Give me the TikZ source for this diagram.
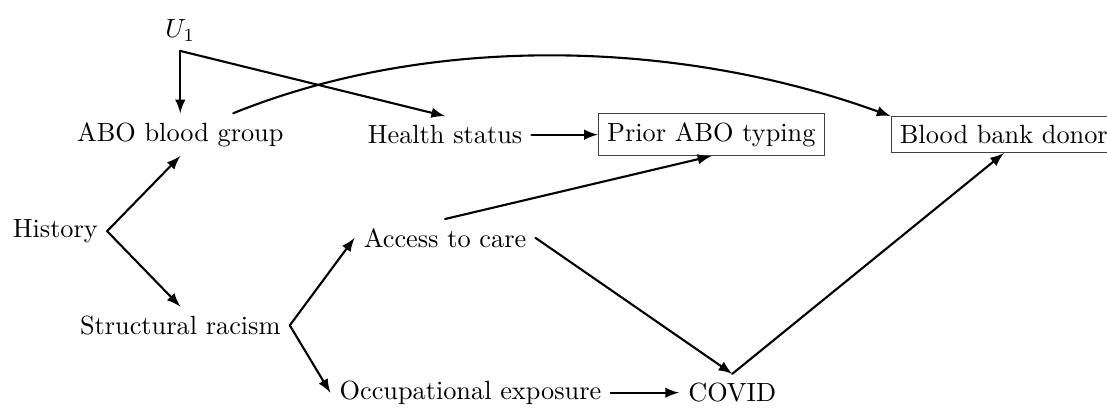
\documentclass[tikz,border=0pt]{standalone}
\usetikzlibrary{arrows}
\begin{document}
\begin{tikzpicture}[cap=round,>=latex,box/.style={draw=black!75},arr/.style={->,thick}]
	\useasboundingbox (0cm,0cm) rectangle (14.80cm,-5.47cm);
	\node (u1) at (2.41cm,-0.41cm) {$U_1$};
	\node (abo) at (2.41cm,-1.80cm) {ABO blood group};
	\node (health) at (5.95cm,-1.80cm) {Health status};
	\node[box] (prior) at (9.51cm,-1.80cm) {Prior ABO typing};
	\node[box] (bbd) at (13.42cm,-1.80cm) {Blood bank donor};
	\node (history) at (0.74cm,-3.09cm) {History};
	\node (access) at (5.95cm,-3.18cm) {Access to care};
	\node (racism) at (2.41cm,-4.35cm) {Structural racism};
	\node (occ) at (6.29cm,-5.25cm) {Occupational exposure};
	\node (covid) at (9.79cm,-5.25cm) {COVID};
	\draw[arr] (u1.south) -- (abo);
	\draw[arr] (u1.south) -- (health.north);
	\draw[arr] (abo) to[out=22,in=160,looseness=0.85] (bbd.north west);
	\draw[arr] (health) -- (prior);
	\draw[arr] (history.east) -- (abo.south);
	\draw[arr] (history.east) -- (racism.north);
	\draw[arr] (racism.east) -- (access.west);
	\draw[arr] (racism.east) -- (occ.west);
	\draw[arr] (access.north) -- (prior.south);
	\draw[arr] (access.east) -- (covid.north);
	\draw[arr] (occ) -- (covid);
	\draw[arr] (covid.north) -- (bbd.south);
\end{tikzpicture}
\end{document}
